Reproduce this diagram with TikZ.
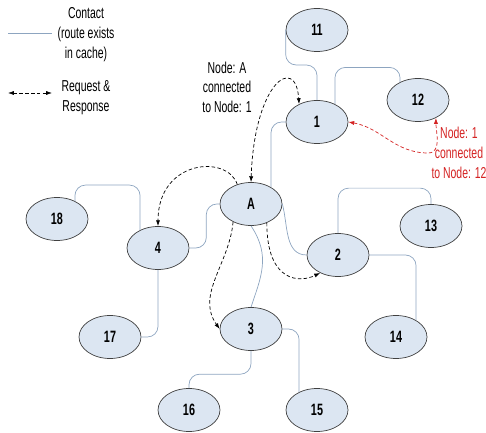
\documentclass[tikz,border=0pt]{standalone}
\usepackage{fontspec}
\setmainfont{Liberation Sans}[FakeStretch=0.66]
\usetikzlibrary{shapes.geometric,arrows.meta}

\definecolor{peerfill}{RGB}{220,230,242}
\definecolor{peeredge}{RGB}{64,64,64}
\definecolor{contactblue}{RGB}{141,165,192}
\definecolor{alertred}{RGB}{212,35,35}

\begin{document}
\begin{tikzpicture}[
	peer/.style={ellipse, draw=peeredge, fill=peerfill, line width=0.6pt,
		minimum width=1.86cm, minimum height=1.29cm, inner sep=0pt,
		font=\fontsize{14}{17}\selectfont\bfseries},
	contact/.style={contactblue, line width=0.6pt, rounded corners=9pt},
	request/.style={black, line width=0.6pt, dash pattern=on 3pt off 2pt},
	lbl/.style={align=center, font=\fontsize{13.5}{17}\selectfont},
	>={Latex[length=5pt,width=3.5pt]}
	]
	\useasboundingbox (0,0) rectangle (14.58,12.96);
	
	%the peers
	\node[peer] (n11) at (9.51,12.06) {11};
	\node[peer] (n1) at (9.51,9.30) {1};
	\node[peer] (n12) at (12.54,9.96) {12};
	\node[peer] (nA) at (7.53,6.84) {A};
	\node[peer] (n4) at (4.74,5.52) {4};
	\node[peer] (n18) at (1.71,6.39) {18};
	\node[peer] (n17) at (3.30,2.85) {17};
	\node[peer] (n16) at (5.67,0.66) {16};
	\node[peer] (n3) at (7.53,3.09) {3};
	\node[peer] (n2) at (10.14,5.31) {2};
	\node[peer] (n13) at (12.93,6.18) {13};
	\node[peer] (n14) at (11.88,2.85) {14};
	\node[peer] (n15) at (9.51,0.66) {15};
	
	%contacts (route in cache)
	\draw[contact] (n11.west) -- ++(0,-1.05) -| (n1.north);
	\draw[contact] (n1.45) -- ++(0,1.1) -| (n12.135);
	\draw[contact] (n1.west) -| (nA.40);
	\draw[contact] (nA.west) -- ++(-0.4,0) |- (n4.east);
	\draw[contact] (n4.135) -- ++(0,1.35) -| (n18.45);
	\draw[contact] (n4.south) |- (n17.east);
	\draw[contact] (nA.east) to[out=-75,in=180] (n2.west);
	\draw[contact] (nA.south) .. controls +(0.6,-0.9) and +(0.3,0.9) .. (n3.north);
	\draw[contact] (n2.north) -- ++(0,1.35) -| (n13.north);
	\draw[contact] (n2.east) -| (n14.40);
	\draw[contact] (n3.east) -| (n15.135);
	\draw[contact] (n3.south) -- ++(0,-0.7) -| (n16.north);
	
	%request & response
	\draw[request, <->] (nA.north) .. controls +(0.1,3.0) and +(-0.1,1.5) .. (n1.135);
	\draw[request, ->] (nA.125) .. controls +(-0.3,0.9) and +(0,2.0) .. (n4.north);
	\draw[request, ->] (nA.225) to[out=-95,in=125] (n3.west);
	\draw[request, ->] (nA.310) .. controls +(0,-1.8) and +(-0.6,-0.3) .. (n2.225);
	
	%1 to 12
	\coordinate (redbend) at (12.84,8.37);
	\draw[request, alertred, <->] (n1.east) to[out=-10,in=180] (redbend) to[out=0,in=-90] (n12.315);
	
	%legend
	\coordinate (contactL) at (0.24,11.97);
	\coordinate (contactR) at (1.56,11.97);
	\draw[contact] (contactL) -- (contactR);
	\node[lbl] (contacttxt) at (2.58,11.91) {Contact\\(route exists\\in cache)};
	\coordinate (requestL) at (0.24,10.17);
	\coordinate (requestR) at (1.56,10.17);
	\draw[request, <->] (requestL) -- (requestR);
	\node[lbl] (requesttxt) at (2.58,10.04) {Request \&\\Response};
	
	%other labels
	\node[lbl] (atoone) at (6.81,10.34) {Node: A\\connected\\to Node: 1};
	\node[lbl, text=alertred] (onetotwelve) at (13.77,8.37) {Node: 1\\connected\\to Node: 12};
\end{tikzpicture}
\end{document}
